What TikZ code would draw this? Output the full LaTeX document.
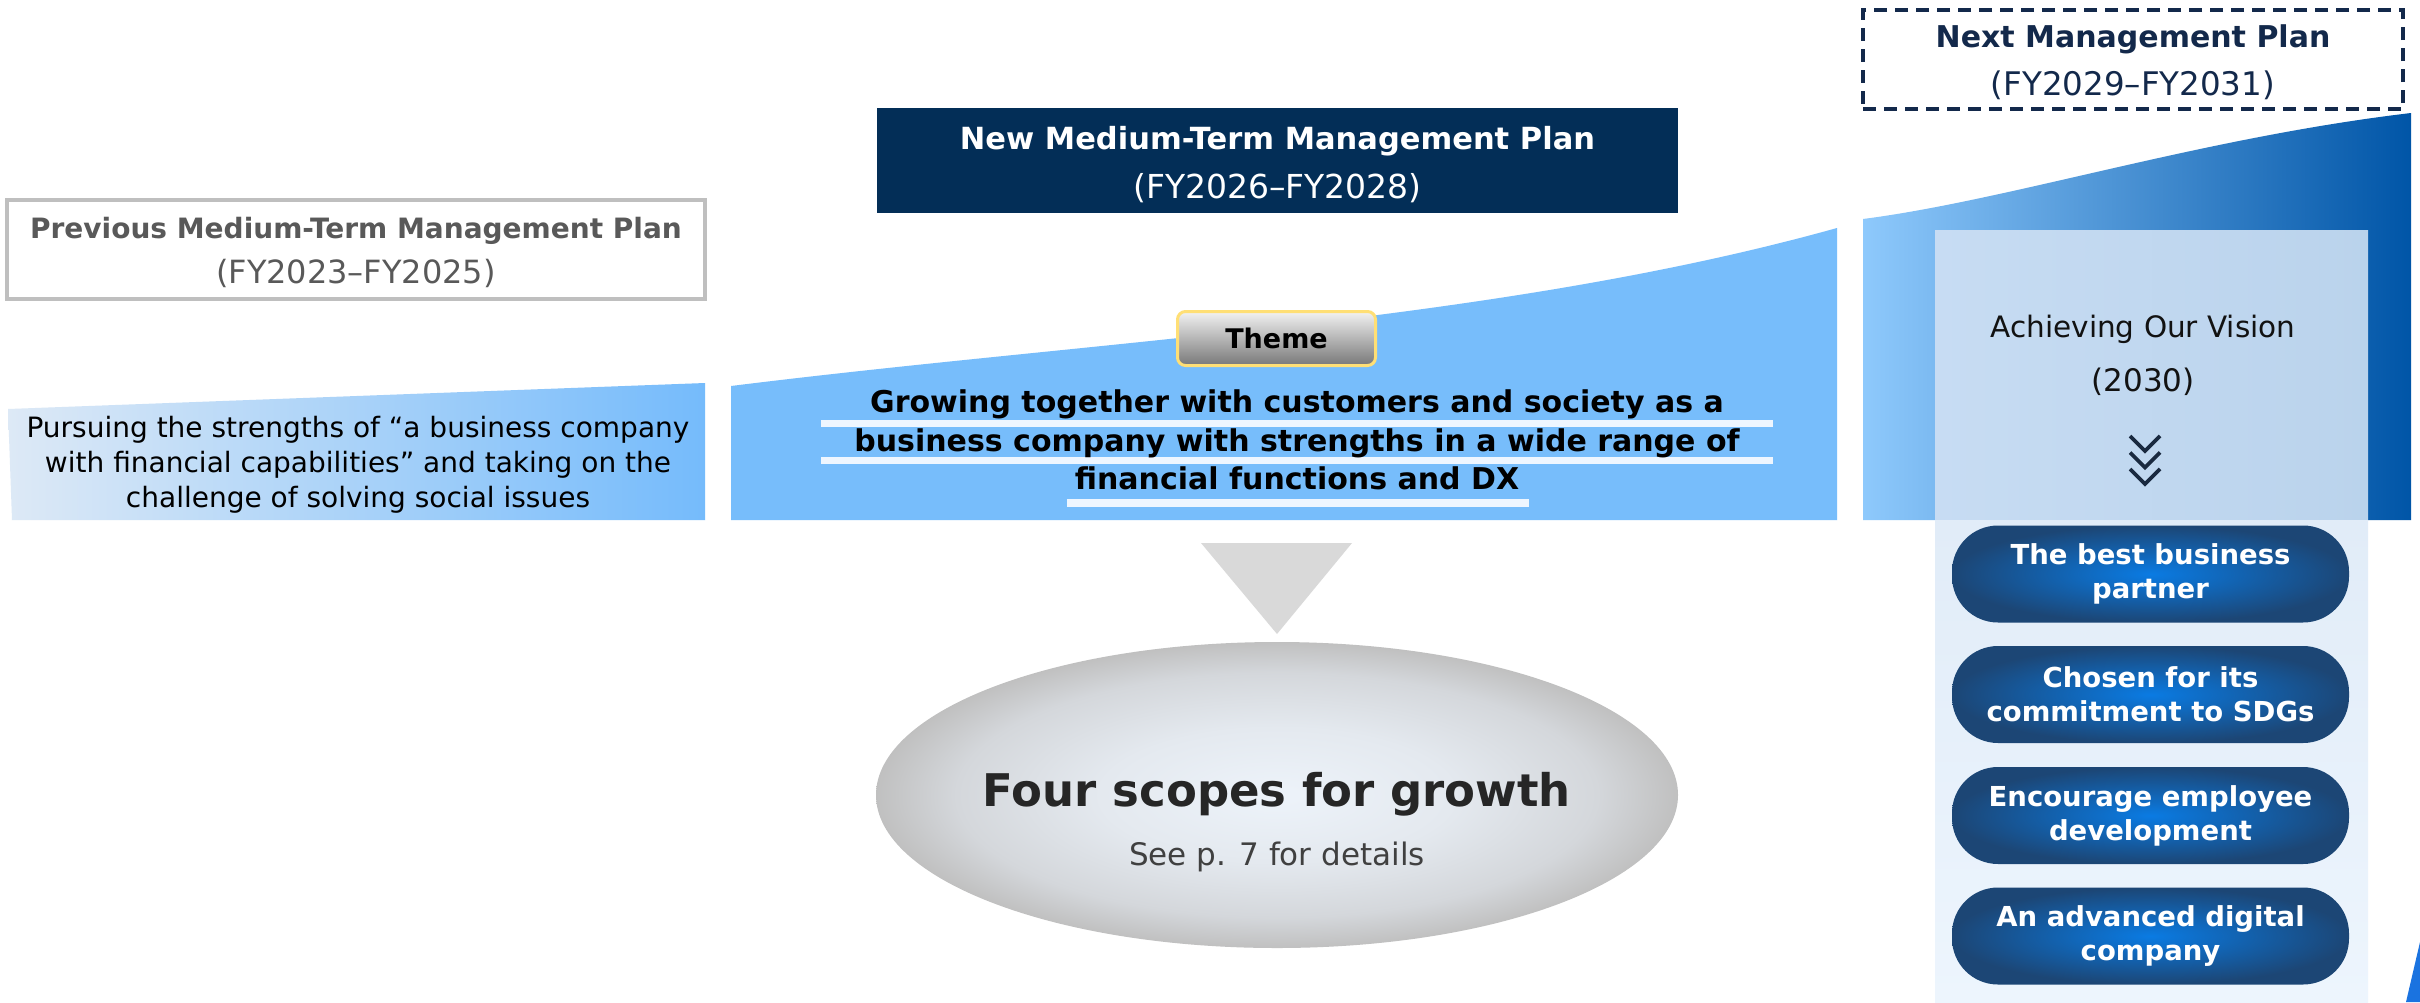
\documentclass[tikz,border=0pt]{standalone}
\usepackage{fontspec}
\setmainfont{DejaVu Sans}
\usetikzlibrary{shapes.geometric}
\definecolor{prevgray}{HTML}{BFBFBF}
\definecolor{prevtxt}{HTML}{595959}
\definecolor{navy}{HTML}{032E57}
\definecolor{nextnavy}{HTML}{13294B}
\definecolor{midblue}{HTML}{77BDFB}
\definecolor{lstripL}{HTML}{DDE9F6}
\definecolor{lstripR}{HTML}{75BBFB}
\definecolor{rL}{HTML}{8EC9FC}
\definecolor{rM}{HTML}{4C9DE8}
\definecolor{rR}{HTML}{0055A7}
\definecolor{panUL}{HTML}{C7DCF3}
\definecolor{panUR}{HTML}{BAD3EC}
\definecolor{panLT}{HTML}{E1ECF8}
\definecolor{panLB}{HTML}{EDF5FD}
\definecolor{pillin}{HTML}{0A7BE3}
\definecolor{pillout}{HTML}{1C4675}
\definecolor{ellA}{HTML}{EDF3FA}
\definecolor{ellB}{HTML}{E4E9EF}
\definecolor{ellC}{HTML}{D4D7DB}
\definecolor{ellD}{HTML}{C0C0C0}
\definecolor{tri}{HTML}{D9D9D9}
\definecolor{barwhite}{HTML}{EEF6FF}
\definecolor{themeborder}{HTML}{FFDF75}
\definecolor{chev}{HTML}{1A2A40}
\definecolor{fragblue}{HTML}{1A73E0}
\pgfdeclareradialshading{ellshade}{\pgfpoint{0bp}{0bp}}{color(0bp)=(ellA); color(11bp)=(ellB); color(20bp)=(ellC); color(25bp)=(ellD); color(50bp)=(ellD)}
\begin{document}
\begin{tikzpicture}[x=1pt,y=-1pt,
  txt/.style={inner sep=0pt, align=center},
  planbox/.style={inner sep=0pt, rectangle},
  pill/.style={rectangle, rounded corners=46pt, minimum width=397pt, minimum height=97pt,
    inner color=pillin, outer color=pillout, text=white, align=center, inner sep=0pt,
    font=\fontsize{27.5}{34}\selectfont\bfseries},
  whitebar/.style={fill=barwhite},
  chevline/.style={draw=chev, line width=3.6pt}
]
\useasboundingbox (0,0) rectangle (2420,1002);
\fill[white] (0,0) rectangle (2420,1002);

% ---------- plan boxes ----------
\node[planbox, draw=prevgray, line width=4.5pt, minimum width=698pt, minimum height=99pt] (prev) at (356,249.5) {};
\node[txt, text=prevtxt, font=\fontsize{28}{45}\selectfont] (prevlabel) at ([shift={(0,3)}]prev.center)
  {{\bfseries Previous Medium-Term Management Plan}\\
   {\fontsize{32}{45}\selectfont(FY2023–FY2025)}};

\node[planbox, fill=navy, minimum width=801pt, minimum height=105pt] (new) at (1277.5,160.5) {};
\node[txt, text=white, font=\fontsize{30.5}{49}\selectfont] (newlabel) at ([shift={(0,4)}]new.center)
  {{\bfseries New Medium-Term Management Plan}\\
   {\fontsize{33}{49}\selectfont(FY2026–FY2028)}};

\node[planbox, draw=nextnavy, line width=4pt, dash pattern=on 13pt off 8pt,
      minimum width=540pt, minimum height=99pt] (next) at (2133,59.5) {};
\node[txt, text=nextnavy, font=\fontsize{30}{48}\selectfont] (nextlabel) at ([shift={(0,3)}]next.center)
  {{\bfseries Next Management Plan}\\
   {\fontsize{32.5}{48}\selectfont(FY2029–FY2031)}};

% ---------- growth band ----------
\shade[left color=lstripL, right color=lstripR]
  (8,409) -- (705,383) -- (705,520) -- (12,520) -- cycle;
\fill[midblue]
  (731,386) .. controls (1100,340) and (1500,322) .. (1837,228) -- (1837,520) -- (731,520) -- cycle;
\shade[left color=rL, middle color=rM, right color=rR]
  (1863,219) .. controls (2010,200) and (2200,138) .. (2411,113) -- (2411,520) -- (1863,520) -- cycle;

% left text
\node[txt, font=\fontsize{28}{35}\selectfont] (prevtext) at (358,465)
  {Pursuing the strengths of “a business company\\with financial capabilities” and taking on the\\challenge of solving social issues};

% theme
\node[rectangle, rounded corners=8pt, draw=themeborder, line width=3pt,
      top color=black!5, bottom color=black!53, minimum width=198pt, minimum height=54pt,
      inner sep=0pt, font=\fontsize{27}{27}\selectfont\bfseries] (theme) at (1276.5,338.5) {Theme};

\fill[whitebar] (821,420) rectangle (1773,427);
\fill[whitebar] (821,457) rectangle (1773,464);
\fill[whitebar] (1067,499) rectangle (1529,507);
\node[txt, font=\fontsize{30}{38.5}\selectfont\bfseries] (themetext) at (1297,440)
  {Growing together with customers and society as a\\business company with strengths in a wide range of\\financial functions and DX};

% ---------- arrow and ellipse ----------
\coordinate (triL) at (1201,543);
\coordinate (triR) at (1352,543);
\coordinate (triT) at (1277,634);
\fill[tri] (triL) -- (triR) -- (triT) -- cycle;

\node[ellipse, shading=ellshade, minimum width=802pt, minimum height=306pt,
      inner sep=0pt] (scope) at (1277,795) {};
\node[txt, text=black!85, font=\fontsize{45}{45}\selectfont\bfseries] (scopetitle) at (1277,794)
  {Four scopes for growth};
\node[txt, text=black!75, font=\fontsize{31}{31}\selectfont] (scopesub) at (1277,857)
  {See p. 7 for details};

% ---------- vision panel ----------
\shade[left color=panUL, right color=panUR] (1935,230) rectangle (2368,520);
\shade[top color=panLT, bottom color=panLB] (1935,520) rectangle (2368,1002);

\node[txt, text=black!93, font=\fontsize{29.5}{54}\selectfont] (vision) at (2143,355)
  {Achieving Our Vision\\
   {\fontsize{31}{54}\selectfont(2030)}};

\coordinate (ch1) at (2145,436);
\foreach \dy in {0,16.5,33} {
  \draw[chevline] ([shift={(-15,\dy)}]ch1) -- ([shift={(0,\dy+15)}]ch1) -- ([shift={(15,\dy)}]ch1);
}

\node[pill] (p1) at (2150.5,574) {The best business\\partner};
\node[pill] (p2) at (2150.5,694.5) {Chosen for its\\commitment to SDGs};
\node[pill] (p3) at (2150.5,815.5) {Encourage employee\\development};
\node[pill] (p4) at (2150.5,936) {An advanced digital\\company};

% fragment at the bottom right edge
\fill[fragblue] (2406,1002) -- (2420,942) -- (2420,1002) -- cycle;
\end{tikzpicture}
\end{document}
